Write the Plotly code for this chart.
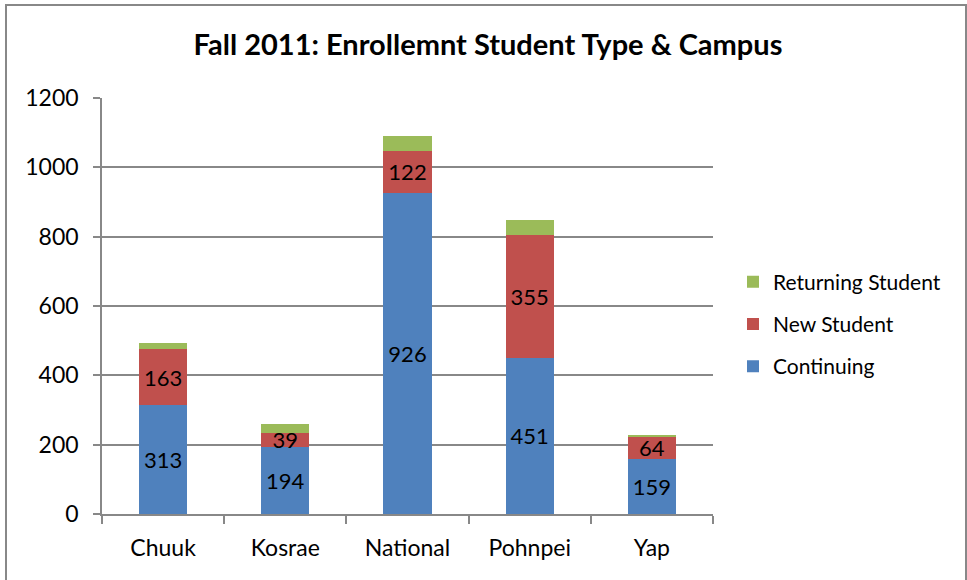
import plotly.graph_objects as go

campuses = ["Chuuk", "Kosrae", "National", "Pohnpei", "Yap"]
continuing = [313, 194, 926, 451, 159]
new_student = [163, 39, 122, 355, 64]
returning = [18, 28, 42, 41, 5]
y_ticks = [0, 200, 400, 600, 800, 1000, 1200]

FONT = "Lato, 'Open Sans', sans-serif"
W, H = 967, 580
L, R, T, B = 102, 254, 98, 66
pw, ph = W - L - R, H - T - B
GRAY = "#888888"

fig = go.Figure()
fig.add_trace(go.Bar(name="Continuing", x=campuses, y=continuing, marker_color="#4F81BD",
                     marker_line_width=0, legendgroup="c", legendrank=3,
                     text=[str(v) for v in continuing], textposition="inside", textangle=0,
                     insidetextanchor="middle", constraintext="none",
                     textfont=dict(size=22, color="black", family=FONT)))
fig.add_trace(go.Bar(name="New Student", x=campuses, y=new_student, marker_color="#C0504D",
                     marker_line_width=0, legendgroup="n", legendrank=2,
                     text=[str(v) for v in new_student], textposition="inside", textangle=0,
                     insidetextanchor="middle", constraintext="none",
                     textfont=dict(size=22, color="black", family=FONT)))
fig.add_trace(go.Bar(name="Returning Student", x=campuses, y=returning, marker_color="#9BBB59",
                     marker_line_width=0, legendgroup="r", legendrank=1, textposition="none"))

fig.update_layout(
    barmode="stack", bargap=0.607,
    width=W, height=H,
    margin=dict(l=L, r=R, t=T, b=B, autoexpand=False),
    paper_bgcolor="white", plot_bgcolor="white",
    font=dict(family=FONT, size=23, color="black"),
    title=dict(text="<b>Fall 2011: Enrollemnt Student Type & Campus</b>",
               x=488 / W, xanchor="center", y=1 - 45 / H, yanchor="middle",
               font=dict(size=29, family=FONT)),
    legend=dict(x=(733 - L) / pw, xanchor="left", y=(514 - 324) / ph, yanchor="middle",
                traceorder="grouped", font=dict(size=21, family=FONT),
                itemwidth=30, tracegroupgap=12, bgcolor="rgba(0,0,0,0)"),
    showlegend=True,
)
fig.update_yaxes(range=[0, 1200], tickvals=y_ticks, showgrid=True, gridcolor=GRAY,
                 gridwidth=1.5, showline=True, linecolor=GRAY, linewidth=1.5, ticks="outside",
                 ticklen=7, tickcolor=GRAY, tickwidth=1.5, zeroline=False,
                 tickfont=dict(size=23), ticklabelstandoff=10)
fig.update_xaxes(showline=True, linecolor=GRAY, linewidth=1.5, ticks="outside",
                 tickson="boundaries", ticklen=8, tickcolor=GRAY, tickwidth=1.5,
                 tickfont=dict(size=23), ticklabelstandoff=13)

fig.add_shape(type="rect", xref="paper", yref="paper",
              x0=(6 - L) / pw, x1=(966 - L) / pw, y0=(514 - 600) / ph, y1=(514 - 5) / ph,
              line=dict(color=GRAY, width=2), fillcolor="rgba(0,0,0,0)", layer="below")

fig.write_html("out.html", config={"displayModeBar": False},
               post_script="document.body.style.margin='0px';")
